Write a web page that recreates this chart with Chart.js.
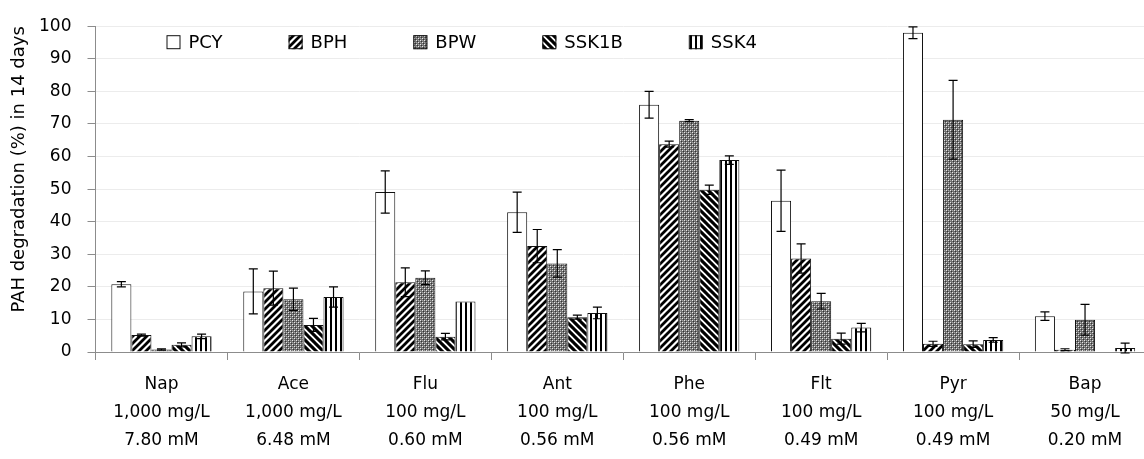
<!DOCTYPE html>
<html lang="en">
<head>
  <meta charset="UTF-8">
  <title>PAH degradation in 14 days</title>
  <script src="https://cdn.jsdelivr.net/npm/chart.js"></script>
  <style>
    html, body { margin: 0; padding: 0; background: #fff; overflow: hidden; }
  </style>
</head>
<body>
<!-- plot runs a little past the right edge, like the cropped original -->
<canvas id="pahChart" width="1160" height="459"></canvas>

<script>
  // PAH compounds and their starting concentrations
  const compounds = ['Nap', 'Ace', 'Flu', 'Ant', 'Phe', 'Flt', 'Pyr', 'Bap'];
  const massConc  = ['1,000 mg/L', '1,000 mg/L', '100 mg/L', '100 mg/L', '100 mg/L', '100 mg/L', '100 mg/L', '50 mg/L'];
  const molarConc = ['7.80 mM', '6.48 mM', '0.60 mM', '0.56 mM', '0.56 mM', '0.49 mM', '0.49 mM', '0.20 mM'];

  // degradation (%) and error for each strain
  const pcy      = [20.8, 18.6, 49.1, 42.9, 75.9, 46.4, 98.0, 11.0];
  const pcyErr   = [0.8, 6.9, 6.5, 6.2, 4.1, 9.4, 1.8, 1.3];
  const bph      = [5.2, 19.6, 21.4, 32.5, 63.8, 28.7, 2.5, 0.7];
  const bphErr   = [0.3, 5.2, 4.4, 5.1, 0.9, 4.5, 0.8, 0.3];
  const bpw      = [0.8, 16.2, 22.8, 27.2, 71.0, 15.6, 71.3, 9.9];
  const bpwErr   = [0.2, 3.4, 2.1, 4.2, 0.3, 2.4, 12.1, 4.7];
  const ssk1b    = [2.2, 8.3, 4.7, 10.7, 49.8, 4.1, 2.4, 0];
  const ssk1bErr = [0.6, 2.0, 1.0, 0.6, 1.4, 1.7, 1.0, 0];
  const ssk4     = [4.8, 16.9, 15.5, 12.0, 58.9, 7.5, 3.7, 1.2];
  const ssk4Err  = [0.7, 3.1, 0, 1.8, 1.3, 1.3, 0.7, 1.5];

  const yTicks = { min: 0, max: 100, step: 10 };

  // black & white fill patterns
  function makePattern(kind) {
    const c = document.createElement('canvas');
    const g = c.getContext('2d');
    if (kind === 'vert') {
      c.width = 5; c.height = 4;
      g.fillStyle = '#fff'; g.fillRect(0, 0, 5, 4);
      g.fillStyle = '#000'; g.fillRect(0, 0, 2, 4);
    } else if (kind === 'gray') {
      c.width = 4; c.height = 4;
      g.fillStyle = '#6e6e6e'; g.fillRect(0, 0, 4, 4);
      g.fillStyle = '#e8e8e8'; g.fillRect(0, 0, 1, 1); g.fillRect(2, 2, 1, 1);
      g.fillStyle = '#a8a8a8'; g.fillRect(2, 0, 1, 1); g.fillRect(0, 2, 1, 1);
      g.fillStyle = '#333'; g.fillRect(1, 1, 1, 1); g.fillRect(3, 3, 1, 1);
    } else {
      const s = 7;
      c.width = s; c.height = s;
      g.fillStyle = '#fff'; g.fillRect(0, 0, s, s);
      g.strokeStyle = '#000';
      g.lineWidth = kind === 'fwd' ? 2.8 : 3.1;
      g.beginPath();
      for (let k = -1; k <= 1; k++) {
        if (kind === 'fwd') {
          g.moveTo(k * s - 1, s + 1); g.lineTo(k * s + s + 1, -1);
        } else {
          g.moveTo(k * s - 1, -1); g.lineTo(k * s + s + 1, s + 1);
        }
      }
      g.stroke();
    }
    return g.createPattern(c, 'repeat');
  }

  const fonts = '"DejaVu Sans", Verdana, sans-serif';

  // error bars drawn from the same values through the y scale
  const errorBars = {
    id: 'errorBars',
    afterDatasetsDraw(chart) {
      const ctx = chart.ctx;
      const y = chart.scales.y;
      ctx.save();
      ctx.strokeStyle = '#000';
      ctx.lineWidth = 1.2;
      chart.data.datasets.forEach((ds, i) => {
        const meta = chart.getDatasetMeta(i);
        meta.data.forEach((bar, j) => {
          const e = ds.errors[j];
          if (!e) return;
          const top = y.getPixelForValue(ds.data[j] + e);
          const bot = y.getPixelForValue(ds.data[j] - e);
          ctx.beginPath();
          ctx.moveTo(bar.x, top); ctx.lineTo(bar.x, bot);
          ctx.moveTo(bar.x - 4.5, top); ctx.lineTo(bar.x + 4.5, top);
          ctx.moveTo(bar.x - 4.5, bot); ctx.lineTo(bar.x + 4.5, bot);
          ctx.stroke();
        });
      });
      ctx.restore();
    }
  };

  // one-row legend inside the plot, top left
  const insideLegend = {
    id: 'insideLegend',
    afterDraw(chart) {
      const ctx = chart.ctx;
      const area = chart.chartArea;
      let x = area.left + 71;
      const cy = area.top + 16;
      ctx.save();
      ctx.font = '18px ' + fonts;
      ctx.textBaseline = 'middle';
      chart.data.datasets.forEach(ds => {
        ctx.fillStyle = ds.backgroundColor;
        ctx.fillRect(x, cy - 7, 14, 14);
        ctx.strokeStyle = '#111';
        ctx.lineWidth = 1;
        ctx.strokeRect(x + 0.5, cy - 6.5, 13, 13);
        ctx.fillStyle = '#000';
        ctx.fillText(ds.label, x + 22, cy + 1);
        x += 22 + ctx.measureText(ds.label).width + 66;
      });
      ctx.restore();
    }
  };

  function series(label, data, errors, fill) {
    return {
      label: label,
      data: data,
      errors: errors,
      backgroundColor: fill,
      borderColor: '#111',
      borderWidth: 1
    };
  }

  const ctx = document.getElementById('pahChart').getContext('2d');
  new Chart(ctx, {
    type: 'bar',
    data: {
      labels: compounds.map((c, i) => [c, massConc[i], molarConc[i]]),
      datasets: [
        series('PCY', pcy, pcyErr, '#ffffff'),
        series('BPH', bph, bphErr, makePattern('fwd')),
        series('BPW', bpw, bpwErr, makePattern('gray')),
        series('SSK1B', ssk1b, ssk1bErr, makePattern('back')),
        series('SSK4', ssk4, ssk4Err, makePattern('vert'))
      ]
    },
    options: {
      responsive: false,
      animation: false,
      layout: { padding: { left: 5, right: 9, top: 24, bottom: 4 } },
      datasets: { bar: { barPercentage: 1, categoryPercentage: 0.76 } },
      plugins: {
        legend: { display: false },
        tooltip: { enabled: false }
      },
      scales: {
        x: {
          afterFit(scale) { scale.height = 103; },
          grid: { drawOnChartArea: false, tickLength: 8, tickColor: '#8c8c8c', offset: true },
          border: { color: '#8c8c8c' },
          ticks: {
            color: '#000',
            padding: 11,
            maxRotation: 0,
            font: { family: fonts, size: 17, lineHeight: '28px' }
          }
        },
        y: {
          min: yTicks.min,
          max: yTicks.max,
          afterFit(scale) { scale.width = 90.5; },
          grid: { color: '#ececec', tickColor: '#8c8c8c', tickLength: 8 },
          border: { color: '#8c8c8c' },
          ticks: {
            stepSize: yTicks.step,
            color: '#000',
            padding: 16,
            font: { family: fonts, size: 17 }
          },
          title: {
            display: true,
            text: 'PAH degradation (%) in 14 days',
            color: '#000',
            align: 'end',
            padding: { top: 4, bottom: 8 },
            font: { family: fonts, size: 18 }
          }
        }
      }
    },
    plugins: [errorBars, insideLegend]
  });
</script>
</body>
</html>
